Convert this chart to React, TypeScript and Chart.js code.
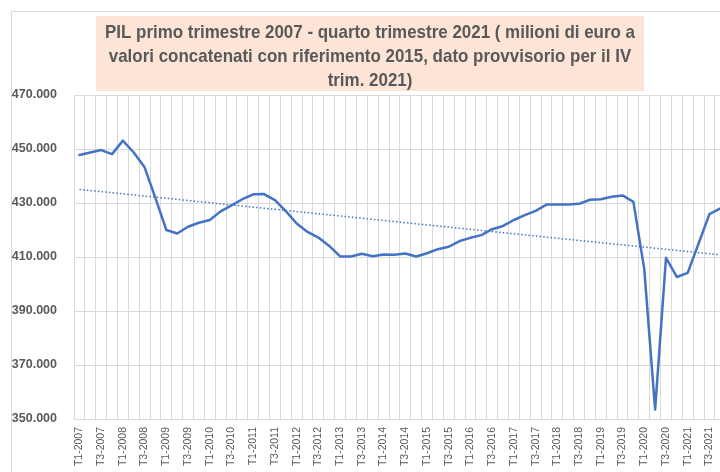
import React, { useEffect, useRef } from 'react';
import { Chart, registerables } from 'chart.js';

Chart.register(...registerables);

const categories = [
  'T1-2007', 'T2-2007', 'T3-2007', 'T4-2007',
  'T1-2008', 'T2-2008', 'T3-2008', 'T4-2008',
  'T1-2009', 'T2-2009', 'T3-2009', 'T4-2009',
  'T1-2010', 'T2-2010', 'T3-2010', 'T4-2010',
  'T1-2011', 'T2-2011', 'T3-2011', 'T4-2011',
  'T1-2012', 'T2-2012', 'T3-2012', 'T4-2012',
  'T1-2013', 'T2-2013', 'T3-2013', 'T4-2013',
  'T1-2014', 'T2-2014', 'T3-2014', 'T4-2014',
  'T1-2015', 'T2-2015', 'T3-2015', 'T4-2015',
  'T1-2016', 'T2-2016', 'T3-2016', 'T4-2016',
  'T1-2017', 'T2-2017', 'T3-2017', 'T4-2017',
  'T1-2018', 'T2-2018', 'T3-2018', 'T4-2018',
  'T1-2019', 'T2-2019', 'T3-2019', 'T4-2019',
  'T1-2020', 'T2-2020', 'T3-2020', 'T4-2020',
  'T1-2021', 'T2-2021', 'T3-2021', 'T4-2021',
];

// PIL, milioni di euro (valori concatenati, rif. 2015)
const gdp = [
  447800, 448700, 449600, 448100,
  453100, 448700, 443200, 431800,
  420000, 418700, 421200, 422700,
  423700, 426900, 429100, 431400,
  433200, 433300, 431100, 427000,
  422400, 419300, 417200, 414100,
  410200, 410200, 411200, 410300,
  410900, 410800, 411300, 410200,
  411400, 412900, 413800, 415900,
  417100, 418100, 420300, 421500,
  423700, 425500, 427100, 429400,
  429400, 429400, 429700, 431200,
  431400, 432300, 432800, 430400,
  405500, 353500, 409700, 402600,
  404100, 415000, 425900, 428000,
];

const yTicks = [350000, 370000, 390000, 410000, 430000, 450000, 470000];

const titleLines = [
  'PIL primo trimestre 2007 - quarto trimestre 2021 ( milioni di euro a',
  'valori concatenati con riferimento 2015, dato provvisorio per il IV',
  'trim. 2021)',
];

// Linear trend (least squares), as the spreadsheet's trend line
function linearTrend(values: number[]): number[] {
  const n = values.length;
  let sx = 0, sy = 0, sxy = 0, sxx = 0;
  values.forEach((v, i) => { sx += i; sy += v; sxy += i * v; sxx += i * i; });
  const b = (n * sxy - sx * sy) / (n * sxx - sx * sx);
  const a = (sy - b * sx) / n;
  return values.map((_, i) => a + b * i);
}

const decorPlugin = {
  id: 'decor',
  beforeDraw(chart: any) {
    const ctx = chart.ctx as CanvasRenderingContext2D;
    ctx.save();
    ctx.fillStyle = '#ffffff';
    ctx.fillRect(0, 0, chart.width, chart.height);
    ctx.strokeStyle = '#D9D9D9';
    ctx.lineWidth = 1;
    ctx.strokeRect(11.5, 11.5, chart.width + 10, chart.height + 10);
    ctx.fillStyle = '#FCE4D6';
    ctx.fillRect(96, 16, 548, 75);
    ctx.font = 'bold 18.5px "Liberation Sans", Arial, sans-serif';
    const w0 = ctx.measureText(titleLines[0]).width;
    const sx = Math.min(1, 530 / w0);
    ctx.fillStyle = '#595959';
    ctx.textAlign = 'center';
    ctx.textBaseline = 'middle';
    titleLines.forEach((t, k) => {
      ctx.save();
      ctx.translate(370, 33 + k * 24);
      ctx.scale(sx, 1);
      ctx.fillText(t, 0, 0);
      ctx.restore();
    });
    ctx.restore();
  },
};

export default function App() {
  const ref = useRef<HTMLCanvasElement | null>(null);

  useEffect(() => {
    if (!ref.current) return;
    const trend = linearTrend(gdp);
    const chart = new Chart(ref.current, {
      type: 'line',
      data: {
        labels: categories,
        datasets: [
          {
            label: 'PIL',
            data: gdp,
            borderColor: '#4472C4',
            backgroundColor: '#4472C4',
            borderWidth: 2.5,
            pointRadius: 0,
            tension: 0,
            borderJoinStyle: 'round',
            borderCapStyle: 'round',
          },
          {
            label: 'Tendenza lineare',
            data: trend,
            borderColor: '#4472C4',
            borderWidth: 1.5,
            borderDash: [1.5, 2.2],
            pointRadius: 0,
            tension: 0,
          },
        ],
      },
      options: {
        animation: false,
        responsive: false,
        devicePixelRatio: 1,
        layout: { padding: { left: 0, top: 95, right: 12, bottom: 11 } },
        plugins: {
          legend: { display: false },
          title: { display: false },
          tooltip: { enabled: false },
        },
        scales: {
          x: {
            type: 'category',
            offset: true,
            grid: { offset: true, color: '#D9D9D9', drawTicks: false, lineWidth: 1 },
            border: { color: '#D9D9D9' },
            ticks: {
              autoSkip: false,
              maxRotation: 90,
              minRotation: 90,
              padding: 8,
              color: '#595959',
              font: { family: '"Liberation Sans", Arial, sans-serif', size: 10.5 },
              callback: (_v: any, i: number) => (i % 2 === 0 ? categories[i] : ''),
            },
            afterFit: (s: any) => { s.height = 60; },
          },
          y: {
            min: 350000,
            max: 470000,
            afterBuildTicks: (s: any) => { s.ticks = yTicks.map((v) => ({ value: v })); },
            grid: { color: '#D9D9D9', drawTicks: false, lineWidth: 1 },
            border: { display: false },
            ticks: {
              padding: 17,
              color: '#595959',
              font: { family: '"Liberation Sans", Arial, sans-serif', size: 12.5, weight: 'bold' },
              callback: (v: any) => (Number(v) / 1000).toFixed(3),
            },
            afterFit: (s: any) => { s.width = 74; },
          },
        },
      },
      plugins: [decorPlugin],
    } as any);
    return () => chart.destroy();
  }, []);

  return (
    <div style={{ position: 'fixed', left: 0, top: 0, width: 720, height: 472, overflow: 'hidden', background: '#fff' }}>
      <canvas ref={ref} width={741} height={490} style={{ display: 'block' }} />
    </div>
  );
}
